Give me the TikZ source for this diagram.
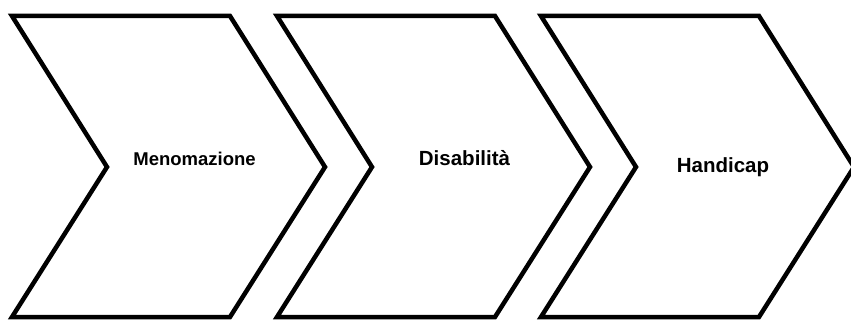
\documentclass[tikz,border=0pt]{standalone}
\usepackage{fontspec}
\setmainfont{Liberation Sans}
\usepackage{tikz}
\usetikzlibrary{positioning}
\tikzset{
  % Chevron outline
  chev/.style={
    draw=black, fill=white,
    line width=4.5pt, line join=miter
  },
  % Step label
  lbl/.style={
    anchor=base, inner sep=0pt,
    font=\bfseries\fontsize{#1}{#1}\selectfont
  }
}
\begin{document}
\begin{tikzpicture}[x=1pt,y=-1pt]
  \useasboundingbox (0,0) rectangle (851,320);
  % Three chevrons, left to right
  \foreach \xo in {12,277,541}{
    \draw[chev] (\xo,16) -- ++(218,0) -- ++(95,151) -- ++(-95,150)
      -- ++(-218,0) -- ++(95,-150) -- cycle;
  }
  \node[lbl=18.5] (men)  at (194.5,166)   {Menomazione};
  \node[lbl=20.5] (dis)  at (464.5,165.5) {Disabilità};
  \node[lbl=20.5] (hand) at (723,172.5)   {Handicap};
\end{tikzpicture}
\end{document}
